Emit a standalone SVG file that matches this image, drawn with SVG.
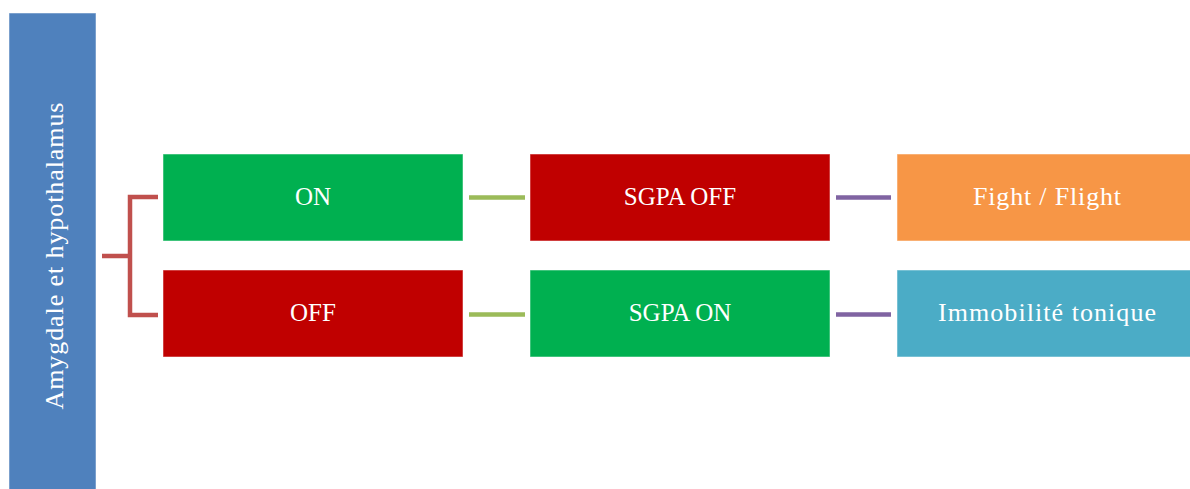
<svg xmlns="http://www.w3.org/2000/svg" width="1190" height="489" viewBox="0 0 1190 489">
<style>
.t{font-family:"Liberation Serif","DejaVu Serif",serif;font-size:26px;fill:#fff;text-anchor:middle;dominant-baseline:central}
.k{font-size:25px}
.b{stroke:#fff;stroke-opacity:0.5;stroke-width:1}
.c{fill:none;stroke-width:4.5}
</style>
<rect width="1190" height="489" fill="#fff"/>
<g id="root">
<rect class="b" x="9" y="13" width="87" height="480" fill="#4F81BD"/>
<text class="t" transform="translate(54,256) rotate(-90)" textLength="307">Amygdale et hypothalamus</text>
</g>
<g id="connectors">
<path class="c" stroke="#C0504D" d="M102,256H130M158,197H130V315H158"/>
<path class="c" stroke="#9BBB59" d="M469,197.5H525M469,314.5H525"/>
<path class="c" stroke="#8064A2" d="M836,197.5H891M836,314.5H891"/>
</g>
<g id="on"><rect class="b" x="163" y="154" width="300" height="87" fill="#00B050"/><text class="t k" x="313" y="196.5">ON</text></g>
<g id="off"><rect class="b" x="163" y="270" width="300" height="87" fill="#C00000"/><text class="t k" x="313" y="312.5">OFF</text></g>
<g id="sgpa-off"><rect class="b" x="530" y="154" width="300" height="87" fill="#C00000"/><text class="t k" x="680" y="196.5">SGPA OFF</text></g>
<g id="sgpa-on"><rect class="b" x="530" y="270" width="300" height="87" fill="#00B050"/><text class="t k" x="680" y="312.5">SGPA ON</text></g>
<g id="fight"><rect class="b" x="897" y="154" width="300" height="87" fill="#F79646"/><text class="t" x="1047" y="196.5" textLength="148">Fight / Flight</text></g>
<g id="immo"><rect class="b" x="897" y="270" width="300" height="87" fill="#4BACC6"/><text class="t" x="1047" y="312.5" textLength="218">Immobilité tonique</text></g>
</svg>
